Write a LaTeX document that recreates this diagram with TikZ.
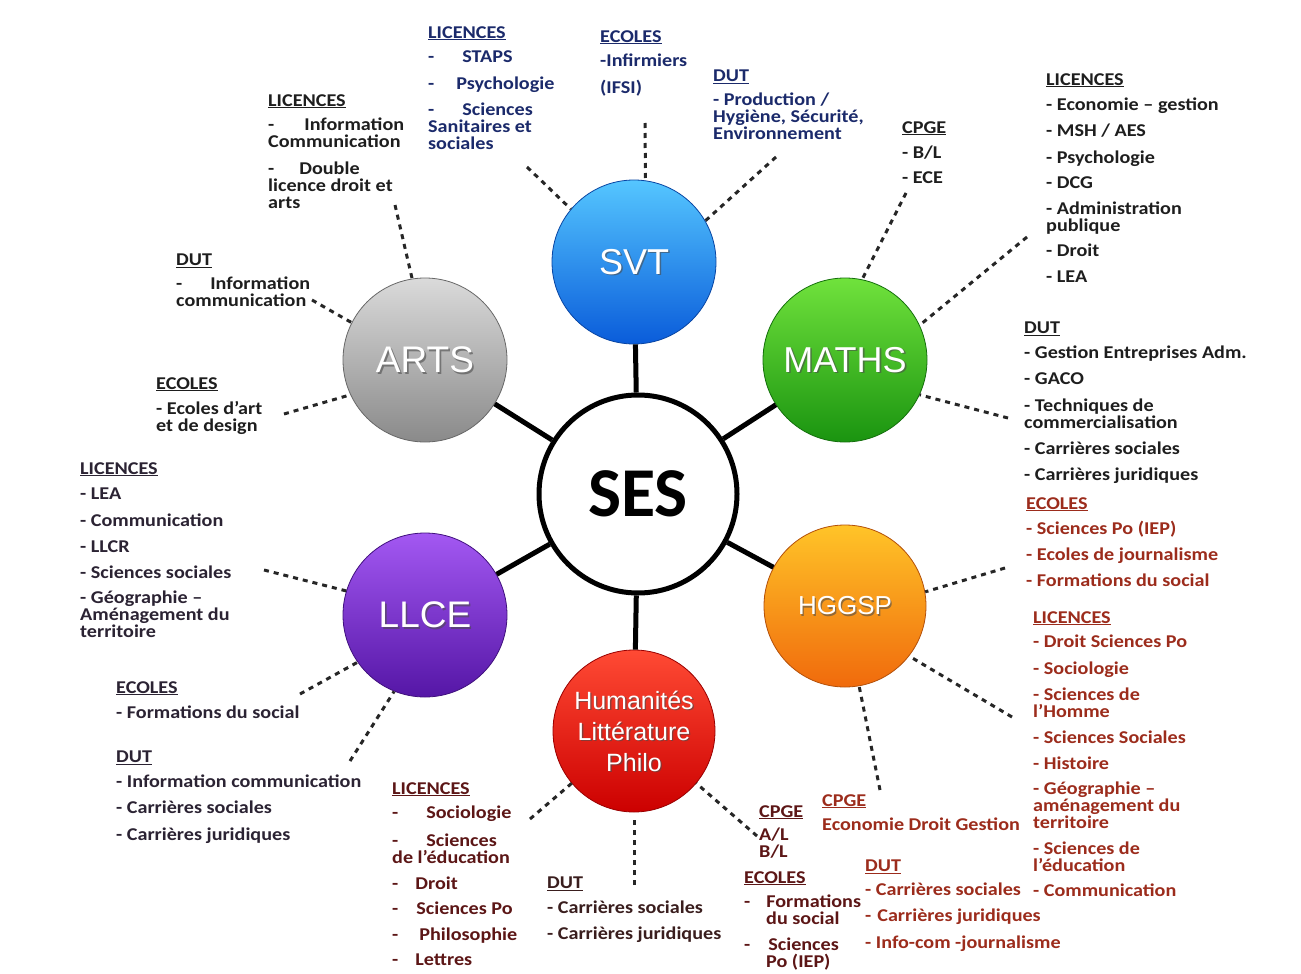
\documentclass[tikz,border=0pt]{standalone}
\usepackage{fontspec}
\setmainfont{Carlito}
\newfontfamily\lblfont[FakeStretch=1.12]{Carlito}
\newfontfamily\arialf{Liberation Sans}
\definecolor{navy}{HTML}{1B2A6B}
\definecolor{txtdark}{HTML}{1E1E1E}
\definecolor{hgred}{HTML}{9C2C1C}
\definecolor{humred}{HTML}{5C1616}
\definecolor{humdark}{HTML}{3A1E1E}
\definecolor{llcepur}{HTML}{2B2333}
\definecolor{svtA}{HTML}{55C6FF}\definecolor{svtB}{HTML}{0A5CDA}
\definecolor{artA}{HTML}{DADADA}\definecolor{artB}{HTML}{8A8A8A}
\definecolor{matA}{HTML}{70E23C}\definecolor{matB}{HTML}{1A9410}
\definecolor{llcA}{HTML}{A358F2}\definecolor{llcB}{HTML}{5516A6}
\definecolor{hggA}{HTML}{FFC428}\definecolor{hggB}{HTML}{F06A0C}
\definecolor{humA}{HTML}{FF4A34}\definecolor{humB}{HTML}{CC0000}
\tikzset{
  lbl/.style={anchor=north west, inner sep=0pt, align=left, font=\lblfont\fontsize{18}{17}\selectfont\bfseries},
  ball/.style 2 args={circle, minimum size=164pt, inner sep=0pt, top color=#1, bottom color=#2, draw=#2!75!black, line width=0.8pt},
  ctext/.style={text=white, inner sep=0pt, align=center},
  cshadow/.style={text=black!70, opacity=0.6, inner sep=0pt, align=center},
  hub/.style={line width=5pt, black},
  dotline/.style={line width=3pt, dash pattern=on 5pt off 5pt, black!85},
}
\begin{document}
\begin{tikzpicture}[x=1pt, y=-1pt]
\useasboundingbox[fill=white] (0,0) rectangle (1301,974);

% ---------- circles ----------
\node[circle, minimum size=198pt, draw=black, line width=5pt, fill=white, inner sep=0pt,
      font=\fontsize{70}{70}\selectfont\bfseries] (ses) at (638,494) {SES};
\node[ball={svtA}{svtB}] (svt) at (634,262) {};
\node[ball={artA}{artB}] (arts) at (425,360) {};
\node[ball={matA}{matB}] (maths) at (845,360) {};
\node[ball={llcA}{llcB}] (llce) at (425,615) {};
\node[ball={hggA}{hggB}, minimum size=162pt] (hggsp) at (845,606) {};
\node[ball={humA}{humB}, minimum size=162pt] (hum) at (634,731) {};

\foreach \n/\t/\s in {svt/SVT/36, arts/ARTS/37, maths/MATHS/36, llce/LLCE/37}{
  \node[cshadow, font=\arialf\fontsize{\s}{\s}\selectfont] (\n sh) at ([shift={(1.6,1.6)}]\n.center) {\t};
  \node[ctext, font=\arialf\fontsize{\s}{\s}\selectfont] (\n tx) at (\n.center) {\t};
}
\node[cshadow, font=\arialf\fontsize{26}{26}\selectfont] (hggsh) at ([shift={(1.3,1.3)}]hggsp.center) {HGGSP};
\node[ctext, font=\arialf\fontsize{26}{26}\selectfont] (hggtx) at (hggsp.center) {HGGSP};
\node[cshadow, font=\arialf\fontsize{25}{31}\selectfont] (humsh) at ([shift={(1.3,1.3)}]hum.center) {Humanités\\Littérature\\Philo};
\node[ctext, font=\arialf\fontsize{25}{31}\selectfont] (humtx) at (hum.center) {Humanités\\Littérature\\Philo};

% ---------- hub connectors ----------
\foreach \n in {svt,arts,maths,llce,hggsp,hum}{\draw[hub] (ses) -- (\n);}

% ---------- SVT labels ----------
\node[lbl, text=navy] (svtlic) at (428,26) {\underline{LICENCES}\\[7pt]
 -\hspace*{28pt}STAPS\\[10pt]
 -\hspace*{22pt}Psychologie\\[9pt]
 -\hspace*{28pt}Sciences\\ Sanitaires et\\ sociales};
\node[lbl, text=navy] (svtec) at (600,30) {\underline{ECOLES}\\[7pt] -Infirmiers\\[10pt] (IFSI)};
\node[lbl, text=navy] (svtdut) at (713,70) {\underline{DUT}\\[7pt] - Production /\\ Hygiène, Sécurité,\\ Environnement};

% ---------- ARTS labels ----------
\node[lbl, text=txtdark] (artlic) at (268,94) {\underline{LICENCES}\\[7pt]
 -\hspace*{30pt}Information\\ Communication\\[10pt]
 -\hspace*{25pt}Double\\ licence droit et\\ arts};
\node[lbl, text=txtdark] (artdut) at (176,254) {\underline{DUT}\\[7pt] -\hspace*{28pt}Information\\ communication};
\node[lbl, text=txtdark] (artec) at (156,377) {\underline{ECOLES}\\[8pt] - Ecoles d’art\\ et de design};

% ---------- MATHS labels ----------
\node[lbl, text=txtdark] (matcp) at (902,121) {\underline{CPGE}\\[8pt] - B/L\\[8pt] - ECE};
\node[lbl, text=txtdark] (matlic) at (1046,73) {\underline{LICENCES}\\[8pt]
 - Economie – gestion\\[9pt] - MSH / AES\\[10pt] - Psychologie\\[8pt] - DCG\\[9pt]
 - Administration\\ publique\\[8pt] - Droit\\[9pt] - LEA};
\node[lbl, text=txtdark] (matdut) at (1024,322) {\underline{DUT}\\[8pt]
 - Gestion Entreprises Adm.\\[9pt] - GACO\\[10pt] - Techniques de\\ commercialisation\\[9pt]
 - Carrières sociales\\[9pt] - Carrières juridiques};

% ---------- HGGSP labels ----------
\node[lbl, text=hgred] (hgec) at (1026,497) {\underline{ECOLES}\\[8pt]
 - Sciences Po (IEP)\\[9pt] - Ecoles de journalisme\\[9pt] - Formations du social};
\node[lbl, text=hgred] (hglic) at (1033,611) {\underline{LICENCES}\\[7pt]
 - Droit Sciences Po\\[10pt] - Sociologie\\[9pt] - Sciences de\\ l’Homme\\[9pt]
 - Sciences Sociales\\[9pt] - Histoire\\[8pt] - Géographie –\\ aménagement du\\ territoire\\[9pt]
 - Sciences de\\ l’éducation\\[8pt] - Communication};
\node[lbl, text=hgred] (hgcp) at (822,794) {\underline{CPGE}\\[7pt] Economie Droit Gestion};
\node[lbl, text=hgred] (hgdut) at (865,860) {\underline{DUT}\\[7pt]
 - Carrières sociales\\[9pt] -\hspace*{6pt}Carrières juridiques\\[10pt] - Info-com -journalisme};

% ---------- Humanites labels ----------
\node[lbl, text=humred] (humlic) at (392,782) {\underline{LICENCES}\\[7pt]
 -\hspace*{28pt}Sociologie\\[11pt]
 -\hspace*{28pt}Sciences\\ de l’éducation\\[9pt]
 -\hspace*{17pt}Droit\\[8pt]
 -\hspace*{18pt}Sciences Po\\[9pt]
 -\hspace*{21pt}Philosophie\\[8pt]
 -\hspace*{17pt}Lettres};
\node[lbl, text=humdark] (humdut) at (547,877) {\underline{DUT}\\[8pt] - Carrières sociales\\[9pt] - Carrières juridiques};
\node[lbl, text=humred] (humcp) at (759,805) {\underline{CPGE}\\[6pt] A/L\\ B/L};
\node[lbl, text=humred] (humec) at (744,871) {\underline{ECOLES}\\[7pt]
 -\hspace*{16pt}Formations\\ \hspace*{22pt}du social\\[9pt]
 -\hspace*{18pt}Sciences\\ \hspace*{22pt}Po (IEP)};

% ---------- LLCE labels ----------
\node[lbl, text=llcepur] (lllic) at (80,462) {\underline{LICENCES}\\[8pt]
 - LEA\\[10pt] - Communication\\[9pt] - LLCR\\[9pt] - Sciences sociales\\[8pt]
 - Géographie –\\ Aménagement du\\ territoire};
\node[lbl, text=llcepur] (llec) at (116,681) {\underline{ECOLES}\\[8pt] - Formations du social};
\node[lbl, text=llcepur] (lldut) at (116,751) {\underline{DUT}\\[8pt]
 - Information communication\\[9pt] - Carrières sociales\\[10pt] - Carrières juridiques};

% ---------- dotted connectors ----------
\coordinate (d1) at (527,167);
\coordinate (d2) at (645,123);
\coordinate (d3) at (776,157);
\coordinate (d4) at (906,193);
\coordinate (d5) at (1027,237);
\coordinate (d6) at (1008,418);
\coordinate (d7) at (1005,568);
\coordinate (d8) at (1012,717);
\coordinate (d9) at (880,790);
\coordinate (d10) at (757,836);
\coordinate (d11) at (634,885);
\coordinate (d12) at (530,819);
\coordinate (d13) at (264,570);
\coordinate (d14) at (300,694);
\coordinate (d15) at (350,761);
\coordinate (d16) at (284,414);
\coordinate (d17) at (312,300);
\coordinate (d18) at (395,205);

\draw[dotline] (d1) -- (svt.140);
\draw[dotline] (d2) -- (svt.82);
\draw[dotline] (d3) -- (svt.30);
\draw[dotline] (d4) -- (maths.78);
\draw[dotline] (d5) -- (maths.25);
\draw[dotline] (d6) -- (maths.-25);
\draw[dotline] (d7) -- (hggsp.10);
\draw[dotline] (d8) -- (hggsp.-38);
\draw[dotline] (d9) -- (hggsp.-80);
\draw[dotline] (d10) -- (hum.-40);
\draw[dotline, shorten >=6pt] (d11) -- (hum.-90);
\draw[dotline] (d12) -- (hum.220);
\draw[dotline] (d13) -- (llce.163);
\draw[dotline] (d14) -- (llce.215);
\draw[dotline] (d15) -- (llce.248);
\draw[dotline] (d16) -- (arts.205);
\draw[dotline] (d17) -- (arts.153);
\draw[dotline] (d18) -- (arts.99);
\end{tikzpicture}
\end{document}
